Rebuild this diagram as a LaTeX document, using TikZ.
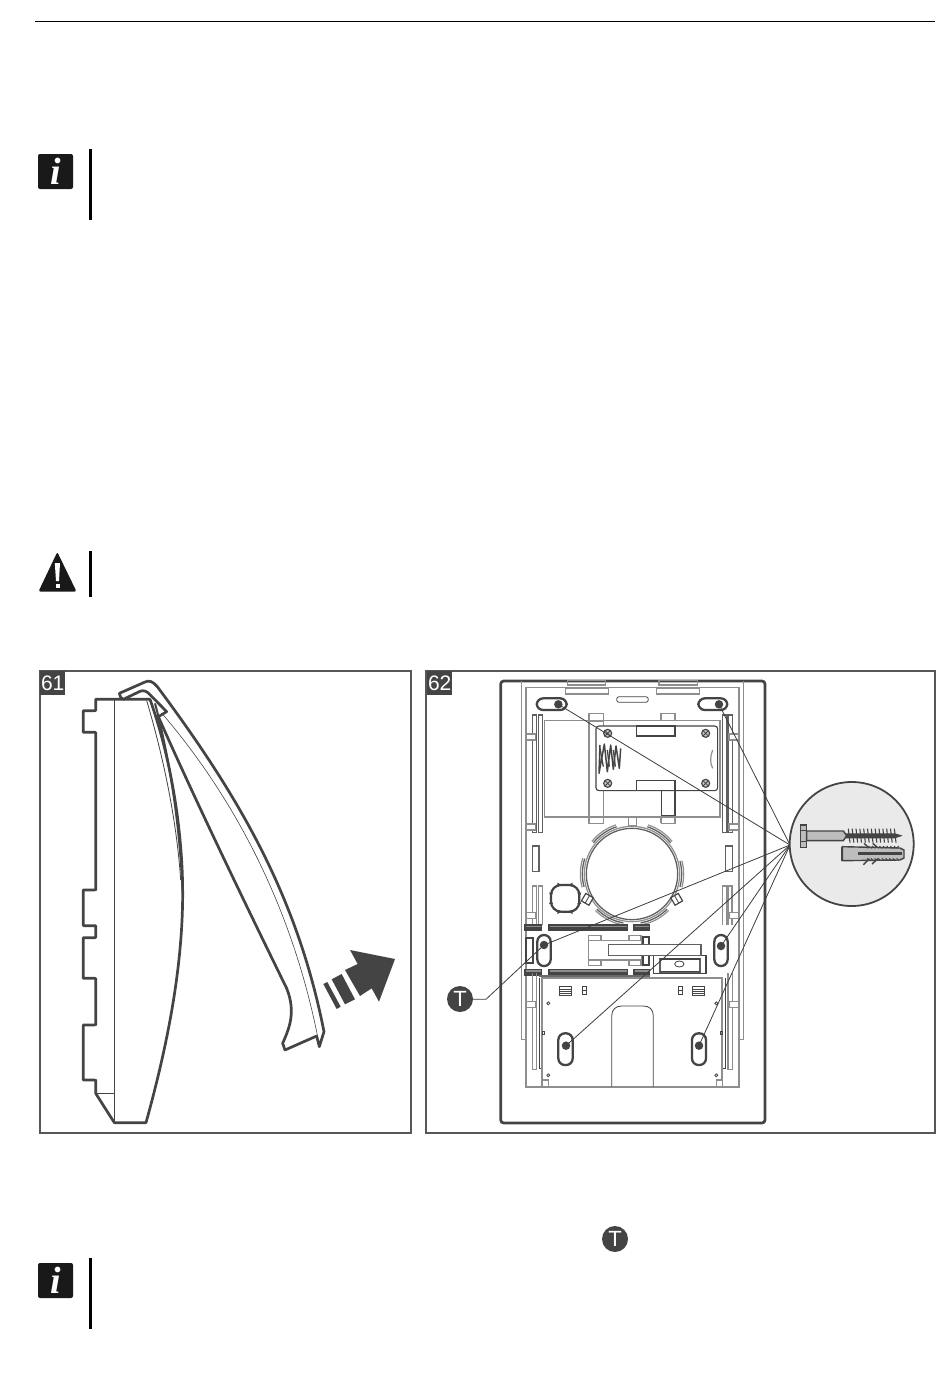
\documentclass[tikz,border=0pt]{standalone}
\usepackage{fontspec}
\setmainfont{Liberation Sans}
\newfontfamily\serifi{Liberation Serif}
\definecolor{ink}{HTML}{444444}
\definecolor{midg}{HTML}{8E8E8E}
\definecolor{lightg}{HTML}{EAEAEA}
\definecolor{shaft}{HTML}{BDBDBD}
\tikzset{
 frame/.style={draw=ink!90,line width=1.5pt},
 numlabel/.style={fill=ink,text=white,minimum width=25pt,minimum height=24pt,inner sep=0pt,anchor=north west,font=\fontsize{21}{21}\selectfont},
 thk/.style={draw=ink,line width=2.7pt,line join=round},
 thn/.style={draw=ink,line width=.8pt},
 gl/.style={draw=midg,line width=1.2pt},
 gthk/.style={draw=midg,line width=1.8pt},
 dl/.style={draw=ink,line width=1.15pt},
 bar/.style={draw=ink,fill=midg,line width=1.2pt},
 slot/.style={draw=ink,line width=2.3pt,fill=white,rounded corners=6.5pt},
 dot/.style={circle,fill=ink,inner sep=0pt,minimum size=8.5pt},
 leader/.style={draw=ink!90!black,line width=.8pt},
 tee/.style={circle,fill=ink,text=white,inner sep=0pt,minimum size=26pt,font=\fontsize{22}{22}\selectfont},
 infobox/.style={fill=black!90,rounded corners=2pt,minimum size=35pt,inner sep=0pt,text=white,font=\serifi\itshape\bfseries\fontsize{38}{38}\selectfont},
 rulebar/.style={draw=black,line width=2.6pt},
}
\begin{document}
\begin{tikzpicture}[x=1pt,y=-1pt]
\useasboundingbox (0,0) rectangle (950,1397);
\fill[white] (0,0) rectangle (950,1397);
\draw[black,line width=1pt] (35,22) -- (935,22);
% icons
\node[infobox] (info1) at (55.5,171.5) {i};
\draw[rulebar] (90.7,149) -- (90.7,220);
\node[infobox] (info2) at (55.5,1280.5) {i};
\draw[rulebar] (90.7,1258) -- (90.7,1329);
\fill[black!90,rounded corners=2pt] (57.3,552) -- (76.5,591.5) -- (38.5,591.5) -- cycle;
\fill[white] (54.8,563) -- (60,563) -- (59,581) -- (56,581) -- cycle;
\fill[white] (55.5,584) rectangle (59.5,588);
\draw[rulebar] (90.7,551) -- (90.7,597);
% frames
\draw[frame] (40,671) rectangle (411,1133);
\draw[frame] (426,671) rectangle (935,1133);
\node[numlabel] (n61) at (40,671) {61};
\node[numlabel] (n62) at (427,671) {62};
% ---- figure 61
\begin{scope}[shift={(30,660)},x=.33333pt,y=-.33333pt]
\draw[thk] (197,118) -- (360,118) .. controls (425,300) and (458,520) .. (458,700)
  .. controls (458,950) and (400,1200) .. (348,1388) -- (253,1388) -- (197,1300)
  -- (197,1260) -- (160,1260) -- (160,1095) -- (197,1095) -- (197,955) -- (160,955)
  -- (160,833) -- (197,833) -- (197,797) -- (160,797) -- (160,690) -- (197,690)
  -- (197,217) -- (160,217) -- (160,152) -- (197,152) -- cycle;
\draw[white,line width=1.4pt] (197,156) -- (197,213) (197,694) -- (197,793) (197,837) -- (197,951) (197,1099) -- (197,1256);
\draw[thn] (253,118) -- (253,1388);
\draw[thn,line width=.5pt] (197,1300) -- (253,1300);
\draw[thn] (350,122) .. controls (400,290) and (440,480) .. (452,660);
\draw[draw=ink,line width=2pt] (375,130) .. controls (420,300) and (450,500) .. (458,700);
% cover
\draw[thk,fill=white] (268,100) -- (345,66) .. controls (358,60) and (368,64) .. (382,80)
  .. controls (620,400) and (800,700) .. (882,1115) -- (868,1160) -- (860,1128)
  -- (765,1170) -- (758,1150) .. controls (775,1110) and (800,1060) .. (770,985)
  .. controls (650,740) and (500,430) .. (385,170) -- (410,155) -- (362,106)
  .. controls (350,92) and (340,90) .. (330,94)
  -- (280,118) -- (272,112) -- cycle;
\draw[thn,line width=.6pt] (400,165) .. controls (600,400) and (780,720) .. (862,1125);
% arrow
\fill[ink] (960,870) -- (1095,897) -- (1047,1025) -- (1025,985) -- (990,1008) -- (945,930) -- (983,912) -- cycle;
\fill[ink] (905,958) -- (935,942) -- (975,1018) -- (945,1033) -- cycle;
\fill[ink] (880,972) -- (892,966) -- (932,1040) -- (920,1047) -- cycle;
\end{scope}
% ---- figure 62, upper part
\draw[draw=ink,line width=2.7pt,rounded corners=3pt] (500.7,681) rectangle (765,1123);
\begin{scope}[shift={(490,670)},x=.33333pt,y=-.33333pt]
\draw[gl] (95,34) -- (95,1108) -- (108,1108);
\draw[gl] (760,34) -- (760,1108) -- (747,1108);
\draw[gl] (108,52) -- (745,52);
\draw[gthk] (108,52) -- (108,1250) -- (747,1250) -- (747,52);
\draw[gl] (232,32) rectangle (347,45);
\draw[gl] (507,32) rectangle (622,45);
\draw[gl] (227,55) rectangle (355,72);
\draw[gl] (500,55) rectangle (628,72);
\draw[thn,rounded corners=2.5pt] (380,80) rectangle (475,97);
\draw[slot] (140,85) rectangle (230,120);
\draw[slot] (625,85) rectangle (712,120);
\node[dot] (h1) at (205,103) {};
\node[dot] (h2) at (687,103) {};
\foreach \xa/\xb in {128/140,145/158,697/710,714/727}{
  \draw[gl,draw=ink!85] (\xa,135) rectangle (\xb,487);
}
\foreach \xa/\xb in {108/137,717/745}{
  \draw[gl,fill=white] (\xa,192) rectangle (\xb,210);
  \draw[gl,fill=white] (\xa,462) rectangle (\xb,480);
}
\draw[gl,fill=white] (163,152) rectangle (690,441);
\draw[gl] (297,155) rectangle (340,460);
\foreach \xa/\xb in {297/340,513/555}{
  \draw[gl] (\xa,150) -- (\xa,130) -- (\xb,130) -- (\xb,150);
  \draw[gl] (\xa,460) -- (\xa,440) (\xa,460) -- (\xb,460) -- (\xb,442);
}
\draw[dl,fill=white,rounded corners=3pt] (318,168) rectangle (683,362);
\draw[dl,fill=white] (440,168) rectangle (555,198);
\draw[dl,fill=white] (440,332) rectangle (555,362);
\draw[dl] (515,362) -- (515,437) -- (555,437) -- (555,362);
\draw[gl] (668,240) .. controls (660,260) and (660,280) .. (668,295);
\foreach \x/\y in {353/190,647/190,353/340,647/340}{
  \draw[dl,fill=midg!50] (\x,\y) circle (4pt);
  \draw[ink,line width=.8pt] (\x-7,\y-7) -- (\x+7,\y+7) (\x-7,\y+7) -- (\x+7,\y-7);
}
\draw[ink,line width=1.5pt,line join=round] (330,225) -- (327,310) -- (343,222) -- (352,305) -- (362,225) -- (370,298) -- (378,228) -- (388,295) -- (392,235);
\draw[ink,line width=1.3pt] (330,235) -- (340,290) (352,240) -- (358,290) (370,240) -- (376,290);
\end{scope}
% ---- figure 62, centre
\begin{scope}[shift={(520,810)},x=.33333pt,y=-.33333pt]
\draw[gl,fill=white] (325,22) rectangle (350,48);
\draw[dl,draw=ink!85,line width=1.3pt] (336,192) circle[radius=137];
\draw[gl] (336,192) circle[radius=143];
\foreach \aa/\ab in {135/100,80/45,165/198,15/-15,-141/-108,-72/-39}{
  \draw[ink!85,line width=1.3pt] (336,192) ++(\aa:149) arc[start angle=\aa,end angle=\ab,radius=149];
  \draw[midg,line width=1.2pt] (336,192) ++(\aa:155) arc[start angle=\aa,end angle=\ab,radius=155];
}
\draw[draw=ink,line width=2.2pt,fill=white,rounded corners=10pt] (93,225) rectangle (178,305);
\fill[ink] (112,218) -- (124,224) -- (112,230) -- cycle (158,218) -- (146,224) -- (158,230) -- cycle
  (112,300) -- (124,306) -- (112,312) -- cycle (158,300) -- (146,306) -- (158,312) -- cycle
  (87,248) -- (93,260) -- (99,248) -- cycle (172,248) -- (178,260) -- (184,248) -- cycle
  (87,282) -- (93,270) -- (99,282) -- cycle (172,282) -- (178,270) -- (184,282) -- cycle;
\foreach \c/\r in {202/-30,470/30}{
  \draw[dl,fill=white,rotate around={\r:(\c,268)}] (\c-13,255) rectangle (\c+13,281);
  \draw[thn,rotate around={\r:(\c,268)}] (\c,255) -- (\c,281);
}
\draw[dl,draw=ink!85] (38,108) rectangle (57,185);
\draw[dl,draw=ink!85] (617,108) rectangle (637,185);
\foreach \xa/\xb in {38/50,55/68,607/620,624/636}{
  \draw[gl] (\xa,345) -- (\xa,228) -- (\xb,228) -- (\xb,345);
}
\draw[gl,fill=white] (18,308) rectangle (48,326);
\draw[gl,fill=white] (628,308) rectangle (656,326);
\foreach \xa/\xb in {15/65,87/322,342/388}{
  \draw[bar] (\xa,345) rectangle (\xb,360);
  \draw[bar] (\xa,478) rectangle (\xb,495);
  \fill[ink] (\xa,352) rectangle (\xb,360);
  \fill[ink] (\xa,485) rectangle (\xb,495);
}
\draw[slot] (52,375) rectangle (92,468);
\draw[slot] (583,375) rectangle (623,468);
\node[dot] (h3) at (72,405) {};
\node[dot] (h4) at (603,408) {};
\draw[dl,line width=1.8pt] (18,385) rectangle (38,460);
\draw[gl,fill=white] (205,392) rectangle (365,450);
\foreach \xa/\xb in {205/243,327/363}{
  \draw[gl,fill=white] (\xa,376) rectangle (\xb,392);
  \draw[gl,fill=white] (\xa,450) rectangle (\xb,467);
}
\draw[dl,line width=1.8pt] (368,382) rectangle (388,465);
\draw[dl,fill=white] (400,437) rectangle (558,490);
\draw[gl,draw=ink!85,fill=white] (420,445) rectangle (540,487);
\draw[ink,line width=1.5pt] (420,447) -- (540,447) (420,485) -- (540,485);
\draw[thn] (478,462) ellipse[x radius=14,y radius=9];
\draw[dl,draw=ink!85,fill=white] (265,403) rectangle (543,437);
\end{scope}
% ---- figure 62, lower part
\begin{scope}[shift={(490,890)},x=.33333pt,y=-.33333pt]
\foreach \xa/\xb in {128/140,714/727}{
  \draw[gl] (\xa,250) -- (\xa,538) -- (\xb,538) -- (\xb,250);
}
\draw[dl] (148,265) -- (148,535) -- (158,535);
\draw[dl] (707,265) -- (707,535) -- (697,535);
\draw[gthk,fill=white] (155,265) -- (697,265) -- (697,590) -- (155,590) -- cycle;
\draw[dl,draw=ink!80] (148,258) -- (480,258);
\draw[gl,fill=white] (108,335) rectangle (137,352);
\draw[gl,fill=white] (717,335) rectangle (745,352);
\foreach \xa/\xb in {207/243,608/644}{
  \draw[thn] (\xa,290) rectangle (\xb,317);
  \draw[thn] (\xa,297) -- (\xb,297) (\xa,304) -- (\xb,304) (\xa,311) -- (\xb,311);
}
\foreach \xa/\xb in {277/289,565/578}{
  \draw[thn] (\xa,288) rectangle (\xb,314);
  \draw[thn] (\xa,301) -- (\xb,301);
}
\foreach \x/\y in {175/340,175/556,679/340,679/556}{
  \draw[thn] (\x,\y) circle (1.5pt);
}
\draw[thn] (158,424) rectangle (164,434);
\draw[thn] (690,424) rectangle (697,434);
\draw[gl,fill=white] (158,570) rectangle (176,590);
\draw[gl,fill=white] (680,570) rectangle (698,590);
\draw[thn] (365,590) -- (365,378) .. controls (365,358) and (378,348) .. (395,348) -- (460,348) .. controls (478,348) and (490,358) .. (490,378) -- (490,590);
\draw[slot] (205,430) rectangle (248,525);
\draw[slot] (606,430) rectangle (648,525);
\node[dot] (h5) at (228,467) {};
\node[dot] (h6) at (627,467) {};
\end{scope}
% leaders
\coordinate (hub) at (790,845);
\coordinate (elbow) at (486,999.3);
\node[tee] (tmark) at (460,999) {T};
\foreach \h in {h1,h2,h3,h4,h5,h6}{
  \draw[leader] (\h.center) -- (hub);
}
\draw[leader] (tmark) -- (elbow) -- (h3.center);
% fixing detail
\node[draw=ink,line width=1.8pt,fill=lightg,circle,minimum size=124pt,inner sep=0pt] (detail) at (851.7,844) {};
\begin{scope}[shift={(780,770)},x=.33333pt,y=-.33333pt]
\draw[ink,line width=1.2pt,fill=shaft] (62,165) rectangle (80,232);
\draw[ink,line width=.7pt] (62,182) -- (80,182) (62,215) -- (80,215);
\draw[ink,line width=1.4pt,fill=shaft] (80,183) -- (190,183) -- (200,197) -- (190,212) -- (80,212) -- cycle;
\fill[ink] (198,190) -- (345,190) -- (368,197) -- (345,205) -- (198,205) -- cycle;
\foreach \i in {0,...,12}{
  \draw[ink,line width=1.1pt] ({205+\i*11.5},176) -- ({210+\i*11.5},218);
}
\draw[ink,line width=1.4pt,fill=shaft] (187,230) -- (360,234) -- (372,240) -- (372,264) -- (360,270) -- (187,272) -- cycle;
\draw[ink,line width=1.8pt] (187,230) -- (187,272);
\draw[ink,line width=2.4pt] (235,250) -- (365,250);
\foreach \i in {0,...,8}{
  \draw[ink,line width=1pt] ({262+\i*11},235) -- ({268+\i*11},228);
  \draw[ink,line width=1pt] ({262+\i*11},265) -- ({268+\i*11},272);
}
\draw[ink,line width=1.4pt] (252,220) -- (265,232) (278,220) -- (292,232) (250,284) -- (268,266) (276,282) -- (294,266);
\end{scope}
\node[tee] (tinline) at (615,1239) {T};
\end{tikzpicture}
\end{document}
